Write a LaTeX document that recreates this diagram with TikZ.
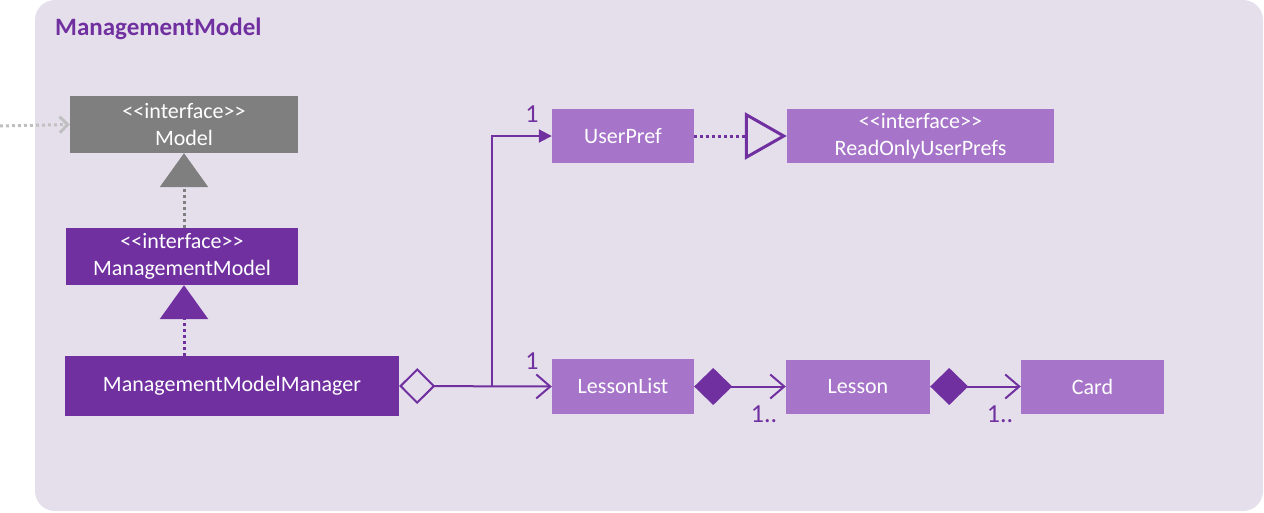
\documentclass[tikz,border=0pt]{standalone}
\usepackage{fontspec}
\setmainfont{Carlito}
\usepackage{tikz}
\usetikzlibrary{arrows.meta,positioning,calc}
\definecolor{mgmtdark}{HTML}{7030A0}
\definecolor{mgmtlight}{HTML}{A674C9}
\definecolor{mgmtbg}{RGB}{229,223,236}
\definecolor{ifgray}{HTML}{7F7F7F}
\definecolor{outgray}{HTML}{C0C0C0}
\newcommand{\ifacetag}{{<}{<}interface{>}{>}}

\begin{document}
\begin{tikzpicture}[
  x=1pt, y=-1pt,
  every node/.style = {font=\fontsize{22}{27}\selectfont},
  darkcls/.style  = {fill=mgmtdark, text=white, inner sep=0pt, align=center},
  lightcls/.style = {fill=mgmtlight, text=white, inner sep=0pt, align=center},
  graycls/.style  = {fill=ifgray, text=white, inner sep=0pt, align=center},
  mult/.style     = {text=mgmtdark, inner sep=0pt, font=\fontsize{26}{30}\selectfont},
  assoc/.style    = {draw=mgmtdark, line width=2pt},
  realize/.style  = {line width=3pt, dash pattern=on 3pt off 3pt},
]

%% ── Package frame ────────────────────────────────────────────────────────────
\useasboundingbox (0,0) rectangle (1264,512);
\fill[mgmtbg, rounded corners=20pt] (35,0) rectangle (1263,511);
\node[anchor=base west, text=mgmtdark, inner sep=0pt,
      font=\fontsize{25}{30}\selectfont\bfseries]
  (pkg) at (55,35) {ManagementModel};

%% ── Interfaces and manager ───────────────────────────────────────────────────
\node[graycls, minimum width=228pt, minimum height=57pt]
  (model) at (184,124.5) {\ifacetag\\Model};
\node[darkcls, minimum width=232pt, minimum height=57pt]
  (mgmt) at (182,256.5) {\ifacetag\\ManagementModel};
\node[darkcls, minimum width=334pt, minimum height=60pt]
  (mgr) at (232,386) {ManagementModelManager};

%% ── Right hand classes ───────────────────────────────────────────────────────
\node[lightcls, minimum width=142pt, minimum height=54pt]
  (pref) at (623,136) {UserPref};
\node[lightcls, minimum width=267pt, minimum height=54pt]
  (ropref) at (920.5,136) {\ifacetag\\ReadOnlyUserPrefs};
\node[lightcls, minimum width=142pt, minimum height=55pt]
  (lessons) at (623,386.5) {LessonList};
\node[lightcls, minimum width=144pt, minimum height=54pt]
  (lesson) at (858,386.5) {Lesson};
\node[lightcls, minimum width=143pt, minimum height=54pt]
  (card) at (1092.5,386.5) {Card};

%% ── Multiplicities ───────────────────────────────────────────────────────────
\node[mult, anchor=base] (mpref) at (532,122) {1};
\node[mult, anchor=base] (mlist) at (532,369) {1};
\node[mult, anchor=base] (mlesson) at (764,422) {1..};
\node[mult, anchor=base] (mcard) at (1000,422) {1..};

%% ── Realisation links ────────────────────────────────────────────────────────
\coordinate (outside) at (0,126);
\draw[outgray, realize, -{Straight Barb[length=8pt,width=16pt]}]
  (outside) -- (model.west);
\draw[ifgray, realize, -{Triangle[length=34pt,width=48pt]}]
  (mgmt.north -| model.south) -- (model.south);
\draw[mgmtdark, realize, -{Triangle[length=34pt,width=48pt]}]
  (mgr.north -| model.south) -- (mgmt.south -| model.south);
\draw[mgmtdark, realize, -{Triangle[open,length=42pt,width=47pt]}]
  (pref.east) -- (ropref.west);

%% ── Associations ─────────────────────────────────────────────────────────────
\draw[assoc, {Diamond[open,length=36pt,width=36pt]}-{Straight Barb[length=14pt,width=24pt]}]
  (mgr.east) -- (lessons.west);
\coordinate (split) at (492,386);
\draw[assoc, -{Triangle[length=13pt,width=13pt]}]
  (split) |- (pref.west);
\draw[assoc, {Diamond[length=38pt,width=37pt]}-{Straight Barb[length=14pt,width=24pt]}]
  (lessons.east) -- (lesson.west);
\draw[assoc, {Diamond[length=38pt,width=37pt]}-{Straight Barb[length=14pt,width=24pt]}]
  (lesson.east) -- (card.west);

\end{tikzpicture}
\end{document}
